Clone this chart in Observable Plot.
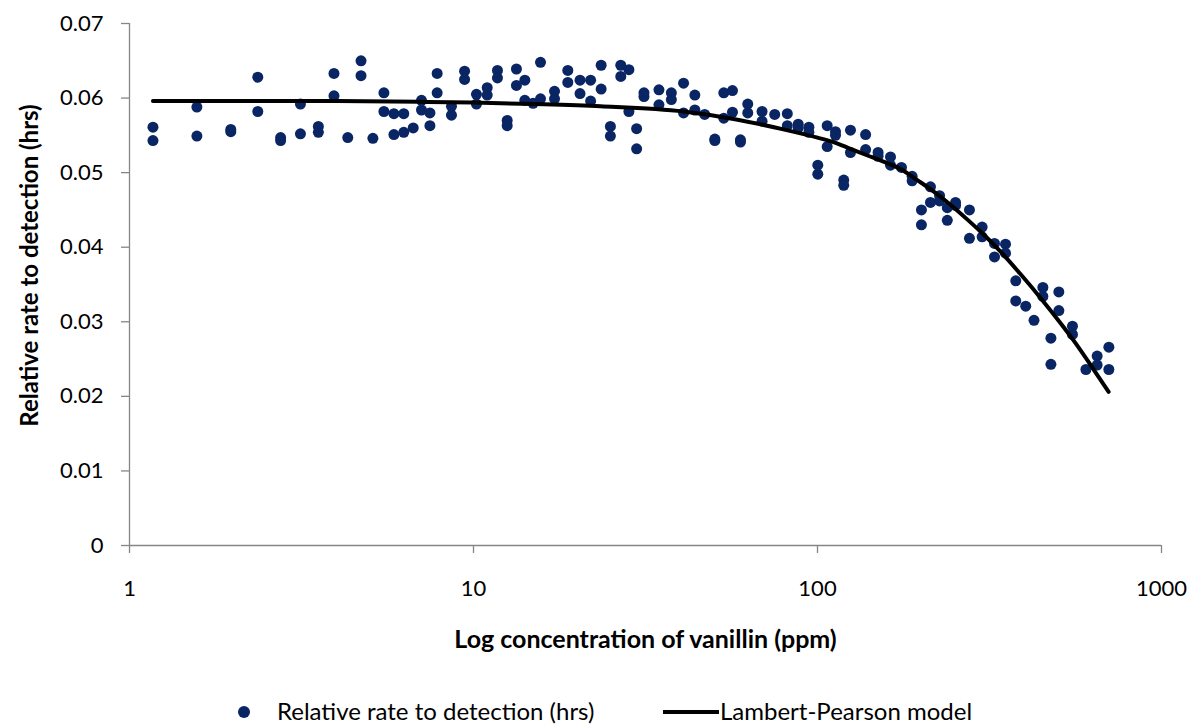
<!DOCTYPE html>
<html>
<head>
<meta charset="utf-8">
<script src="https://cdn.jsdelivr.net/npm/d3@7"></script>
<script src="https://cdn.jsdelivr.net/npm/@observablehq/plot@0.6"></script>
<style>
  html, body { margin: 0; padding: 0; background: #fff; }
  body { width: 1191px; height: 724px; overflow: hidden; font-family: Lato, "Open Sans", sans-serif; }
  #chart svg { display: block; }
  #legend { position: relative; height: 34px; font-size: 24px; line-height: 28px; color: #000; }
  #legend .dot { position: absolute; left: 238px; top: 16px; width: 12px; height: 12px; border-radius: 50%; background: #0a2563; }
  #legend .t1 { position: absolute; left: 277px; top: 7px; }
  #legend .ln { position: absolute; left: 663px; top: 20px; width: 56px; height: 4px; background: #000; }
  #legend .t2 { position: absolute; left: 720px; top: 7px; }
</style>
</head>
<body>
<div id="chart"></div>
<div id="legend"><span class="dot"></span><span class="t1">Relative rate to detection (hrs)</span><span class="ln"></span><span class="t2">Lambert-Pearson model</span></div>
<script>
// Observed points: concentration (ppm) and relative rate to detection (hrs)
const concentration = [
  1.17, 1.17, 1.57, 1.57, 1.97, 1.97, 2.36, 2.36, 2.75, 2.75,
  3.14, 3.14, 3.54, 3.54, 3.93, 3.93, 4.31, 4.71, 4.71, 5.10,
  5.49, 5.49, 5.87, 5.87, 6.27, 6.27, 6.68, 7.06, 7.06, 7.47,
  7.47, 7.84, 7.84, 8.63, 8.63, 9.42, 9.42, 10.2, 10.2, 10.96,
  10.96, 11.74, 11.74, 12.53, 12.53, 13.33, 13.33, 14.1, 14.1, 14.9,
  15.66, 15.66, 17.2, 17.2, 18.8, 18.8, 20.4, 20.4, 21.9, 21.9,
  23.5, 23.5, 25.0, 25.0, 26.8, 26.8, 28.3, 28.3, 29.8, 29.8,
  31.3, 31.3, 34.6, 34.6, 37.6, 37.6, 40.8, 40.8, 44.0, 44.0,
  47.0, 50.3, 50.3, 53.4, 53.4, 56.6, 56.6, 59.7, 59.7, 62.7,
  62.7, 69.0, 69.0, 75.1, 81.7, 81.7, 87.9, 87.9, 94.4, 94.4,
  100.2, 100.2, 106.7, 106.7, 112.8, 112.8, 119.2, 119.2, 124.7, 124.7,
  138, 138, 150, 150, 163, 163, 175.4, 188.4, 188.4, 200.5,
  200.5, 213, 213, 226.4, 226.4, 238.4, 238.4, 251.9, 251.9, 276.5,
  276.5, 301, 301, 327, 327, 352, 352, 377, 377, 403,
  426, 452, 452, 477, 477, 503, 503, 551, 551, 603,
  650, 650, 703, 703
];
const rate = [
  0.0561, 0.0543, 0.0588, 0.0549, 0.0558, 0.0555, 0.0628, 0.0582, 0.0547, 0.0543,
  0.0592, 0.0552, 0.0562, 0.0554, 0.0633, 0.0603, 0.0547, 0.0650, 0.0630, 0.0546,
  0.0607, 0.0582, 0.0579, 0.0551, 0.0579, 0.0554, 0.0560, 0.0597, 0.0584, 0.0580,
  0.0563, 0.0633, 0.0607, 0.0589, 0.0577, 0.0636, 0.0625, 0.0605, 0.0592, 0.0614,
  0.0604, 0.0637, 0.0627, 0.0570, 0.0563, 0.0639, 0.0617, 0.0624, 0.0597, 0.0593,
  0.0648, 0.0599, 0.0609, 0.0599, 0.0637, 0.0621, 0.0624, 0.0606, 0.0624, 0.0596,
  0.0644, 0.0612, 0.0562, 0.0549, 0.0644, 0.0629, 0.0638, 0.0582, 0.0559, 0.0532,
  0.0607, 0.0602, 0.0611, 0.0591, 0.0607, 0.0598, 0.0620, 0.0580, 0.0604, 0.0584,
  0.0578, 0.0545, 0.0543, 0.0607, 0.0573, 0.0610, 0.0581, 0.0544, 0.0541, 0.0592,
  0.0580, 0.0582, 0.0569, 0.0578, 0.0579, 0.0563, 0.0565, 0.0560, 0.0561, 0.0554,
  0.0510, 0.0498, 0.0563, 0.0535, 0.0555, 0.0550, 0.0490, 0.0483, 0.0557, 0.0527,
  0.0551, 0.0531, 0.0527, 0.0522, 0.0521, 0.0510, 0.0507, 0.0495, 0.0489, 0.0450,
  0.0430, 0.0481, 0.0460, 0.0469, 0.0462, 0.0453, 0.0436, 0.0460, 0.0456, 0.0450,
  0.0412, 0.0427, 0.0414, 0.0405, 0.0387, 0.0404, 0.0392, 0.0355, 0.0328, 0.0321,
  0.0302, 0.0346, 0.0334, 0.0278, 0.0243, 0.0340, 0.0315, 0.0294, 0.0283, 0.0236,
  0.0254, 0.0242, 0.0266, 0.0236
];

// Lambert-Pearson model curve
const modelConcentration = [1.17, 2, 4, 7, 10, 15, 23.4, 40.8, 57, 79.6, 100, 111.3, 124.7, 139.8, 157, 174.3, 195, 217.3, 245, 272.9, 297.7, 340.6, 389, 445, 509, 555, 635, 702];
const modelRate = [0.0596, 0.0596, 0.0596, 0.0595, 0.0594, 0.0592, 0.0589, 0.0582, 0.0572, 0.0558, 0.0547, 0.0541, 0.0532, 0.0523, 0.0514, 0.0505, 0.0490, 0.0475, 0.0456, 0.0437, 0.0421, 0.0394, 0.0364, 0.0332, 0.0298, 0.0275, 0.0236, 0.0206];

const xTicks = [1, 10, 100, 1000];
const yTicks = [0, 0.01, 0.02, 0.03, 0.04, 0.05, 0.06, 0.07];
const xTitle = "Log concentration of vanillin (ppm)";
const yTitle = "Relative rate to detection (hrs)";

const points = concentration.map((c, i) => ({c, r: rate[i]}));
const model = modelConcentration.map((c, i) => ({c, r: modelRate[i]}));

const axisGray = "#868686";
const font = "Lato, 'Open Sans', sans-serif";

const chart = Plot.plot({
  width: 1191,
  height: 690,
  marginLeft: 129,
  marginRight: 30,
  marginTop: 23,
  marginBottom: 145,
  style: {fontFamily: font, fontSize: "22px", color: "#000", background: "#fff", overflow: "visible"},
  x: {type: "log", domain: [1, 1000]},
  y: {domain: [0, 0.07]},
  marks: [
    Plot.ruleX([1], {stroke: axisGray, strokeWidth: 1.3}),
    Plot.ruleY([0], {stroke: axisGray, strokeWidth: 1.3}),
    Plot.axisY({ticks: yTicks, tickSize: 8, tickPadding: 18, stroke: axisGray, strokeWidth: 1.3,
      tickFormat: d => d === 0 ? "0" : d.toFixed(2), label: null, fontSize: 22}),
    Plot.axisX({ticks: xTicks, tickSize: 8, tickPadding: 27, stroke: axisGray, strokeWidth: 1.3,
      tickFormat: d => String(d), label: null, fontSize: 22}),
    Plot.text([xTitle], {frameAnchor: "bottom", text: d => d, dy: 94, fontWeight: "bold", fontSize: 25, lineAnchor: "middle", textAnchor: "middle"}),
    Plot.text([yTitle], {frameAnchor: "left", text: d => d, rotate: -90, dx: -99, dy: -19, fontWeight: "bold", fontSize: 24, lineAnchor: "middle", textAnchor: "middle"}),
    Plot.dot(points, {x: "c", y: "r", r: 5.5, fill: "#0a2563", stroke: "none"}),
    Plot.line(model, {x: "c", y: "r", stroke: "#000", strokeWidth: 4, curve: "monotone-x"})
  ]
});
document.getElementById("chart").appendChild(chart);
</script>
</body>
</html>
